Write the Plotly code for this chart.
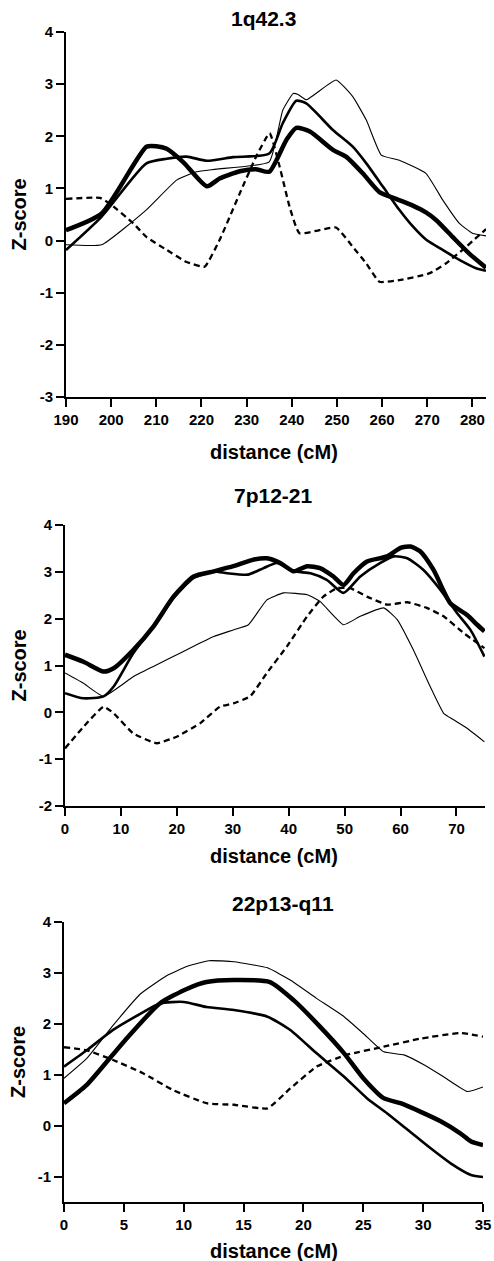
import plotly.graph_objects as go

W, H = 494, 1261
FONT = "Liberation Sans, Arial, sans-serif"

# ---------------- Panel 1: 1q42.3 ----------------
p1_thick_x = [190, 197.9, 207.8, 210, 212.3, 216, 221.2, 224, 228.5, 232, 235, 238.8, 241, 244, 249.1, 252, 255.7, 259.4, 263.1, 266.8, 269.7, 272, 275.6, 279.3, 283]
p1_thick_y = [0.20, 0.52, 1.80, 1.81, 1.76, 1.50, 1.04, 1.19, 1.33, 1.37, 1.32, 1.93, 2.16, 2.09, 1.74, 1.61, 1.29, 0.93, 0.80, 0.67, 0.54, 0.39, 0.07, -0.25, -0.52]

p1_med_x = [190, 197.9, 207.8, 212.3, 216.7, 221.2, 227, 235, 238, 241, 243.2, 249.1, 253.5, 256.5, 260.2, 263.8, 266.8, 269.7, 273.4, 277.1, 280.8, 283]
p1_med_y = [-0.18, 0.46, 1.48, 1.57, 1.61, 1.53, 1.60, 1.67, 2.25, 2.68, 2.63, 2.12, 1.80, 1.48, 1.03, 0.59, 0.27, 0.02, -0.18, -0.37, -0.53, -0.58]

p1_thin_x = [190, 197.9, 207.8, 214.5, 218.9, 223.3, 235, 238, 240.3, 241.4, 243.2, 249.8, 253.5, 256.5, 259.8, 263.8, 269.7, 273.4, 277.1, 280, 283]
p1_thin_y = [-0.08, -0.08, 0.59, 1.16, 1.32, 1.37, 1.51, 2.50, 2.82, 2.80, 2.70, 3.08, 2.76, 2.31, 1.64, 1.54, 1.29, 0.78, 0.33, 0.14, 0.09]

p1_dash_x = [190, 197.5, 199.7, 204.9, 207.8, 212.3, 216.7, 220.7, 224, 228.5, 232.1, 235.1, 237.3, 239.5, 241.7, 249.8, 253.5, 256.5, 259.4, 263.8, 270.4, 274.1, 278.6, 283]
p1_dash_y = [0.80, 0.82, 0.71, 0.33, 0.07, -0.18, -0.41, -0.50, 0.01, 0.91, 1.61, 2.06, 1.42, 0.65, 0.14, 0.25, -0.12, -0.44, -0.79, -0.76, -0.63, -0.44, -0.12, 0.22]

# ---------------- Panel 2: 7p12-21 ----------------
p2_thick_x = [0, 3.3, 6.9, 8.7, 12.2, 15.8, 19.4, 23, 26.6, 30.1, 33.7, 36.1, 38.5, 40.9, 43.3, 45.6, 48, 49.8, 51.6, 54, 57.6, 60, 61.8, 63.5, 65.9, 68.9, 71.9, 73.7, 75]
p2_thick_y = [1.23, 1.08, 0.87, 0.94, 1.33, 1.83, 2.47, 2.90, 3.01, 3.12, 3.26, 3.29, 3.19, 3.01, 3.12, 3.08, 2.90, 2.72, 2.97, 3.22, 3.33, 3.51, 3.54, 3.44, 3.04, 2.33, 2.08, 1.87, 1.73]

p2_med_x = [0, 3.3, 6.9, 8.7, 12.2, 15.8, 19.4, 23, 26.6, 29, 32.7, 35.5, 37.9, 40.9, 43.9, 46.8, 49.8, 52.8, 56.4, 58.8, 61.2, 64.1, 67.1, 70.1, 72.5, 75]
p2_med_y = [0.41, 0.30, 0.34, 0.55, 1.26, 1.83, 2.44, 2.87, 3.01, 2.97, 2.94, 3.08, 3.19, 3.01, 2.97, 2.83, 2.55, 2.90, 3.19, 3.33, 3.29, 3.04, 2.62, 2.12, 1.76, 1.19]

p2_thin_x = [0, 3.3, 6.9, 12.2, 15.8, 18.8, 23, 26.6, 30.1, 32.8, 36.1, 39.1, 43.3, 45.6, 49.8, 52.8, 57, 59.4, 62.3, 65.3, 67.7, 69.5, 71.9, 75]
p2_thin_y = [0.84, 0.62, 0.34, 0.76, 0.98, 1.16, 1.41, 1.62, 1.76, 1.87, 2.40, 2.55, 2.51, 2.37, 1.87, 2.05, 2.23, 1.98, 1.33, 0.55, -0.02, -0.16, -0.34, -0.63]

p2_dash_x = [0, 3.3, 6.9, 8.7, 12.2, 16.4, 20, 24.2, 27.7, 30.1, 33.1, 36.1, 39.7, 43.3, 46.2, 48.6, 51, 54, 57.6, 61.2, 64.7, 67.7, 71.3, 75]
p2_dash_y = [-0.77, -0.31, 0.12, -0.02, -0.45, -0.66, -0.52, -0.23, 0.12, 0.19, 0.34, 0.84, 1.41, 2.05, 2.47, 2.65, 2.65, 2.47, 2.30, 2.35, 2.23, 2.05, 1.69, 1.37]

# ---------------- Panel 3: 22p13-q11 ----------------
p3_thick_x = [0, 1.9, 5, 8, 10.3, 11.9, 14.2, 17.2, 19.2, 21.4, 23.4, 25, 26.7, 28.1, 29.8, 31.5, 33.1, 34, 35]
p3_thick_y = [0.44, 0.80, 1.65, 2.40, 2.69, 2.82, 2.86, 2.82, 2.46, 1.94, 1.42, 0.93, 0.54, 0.44, 0.27, 0.08, -0.15, -0.31, -0.38]

p3_med_x = [0, 1.9, 4.1, 6.4, 8, 10, 11.9, 14.2, 17, 18.9, 21.1, 23.4, 25.3, 27, 28.7, 30.6, 32.3, 34, 35]
p3_med_y = [1.16, 1.48, 1.88, 2.20, 2.40, 2.43, 2.33, 2.27, 2.14, 1.88, 1.42, 0.96, 0.54, 0.24, -0.08, -0.44, -0.74, -0.97, -1.01]

p3_thin_x = [0, 1.9, 4.1, 6.4, 8.6, 10.3, 12.1, 14.2, 17, 18.9, 21.1, 23.4, 25, 26.7, 28.4, 30.1, 31.7, 33.7, 35]
p3_thin_y = [0.93, 1.32, 1.97, 2.59, 2.95, 3.13, 3.24, 3.22, 3.10, 2.86, 2.50, 2.14, 1.81, 1.45, 1.39, 1.19, 0.96, 0.67, 0.76]

p3_dash_x = [0, 1.9, 4.1, 6.6, 9.1, 11.9, 14.2, 17, 18.9, 21.1, 23.6, 26.7, 29.8, 33.1, 35]
p3_dash_y = [1.54, 1.48, 1.29, 1.03, 0.70, 0.44, 0.41, 0.34, 0.73, 1.16, 1.39, 1.55, 1.71, 1.82, 1.75]

titles = ["1q42.3", "7p12-21", "22p13-q11"]
x_ranges = [[190, 283], [0, 75.1], [0, 35]]
x_ticks = [list(range(190, 290, 10)), list(range(0, 80, 10)), list(range(0, 40, 5))]
y_ranges = [[-3, 4], [-2, 4], [-1.5, 4]]
y_ticks = [list(range(-3, 5)), list(range(-2, 5)), list(range(-1, 5))]

# pixel geometry of each panel: (left, right, top, bottom)
geom = [(66, 486, 32, 397), (65, 485, 525, 806), (64, 483, 922, 1202)]
title_pos = [(263, 19), (273, 496), (283, 903)]
xlabel_y = [452, 856, 1251]

def px(x):
    return x / W

def py(y):
    return 1 - y / H

def lab(v):
    return "<b>%s</b>" % ("-%d" % -v if v < 0 else "%d" % v)

series = [
    [(p1_thin_x, p1_thin_y), (p1_med_x, p1_med_y), (p1_thick_x, p1_thick_y), (p1_dash_x, p1_dash_y)],
    [(p2_thin_x, p2_thin_y), (p2_med_x, p2_med_y), (p2_thick_x, p2_thick_y), (p2_dash_x, p2_dash_y)],
    [(p3_thin_x, p3_thin_y), (p3_med_x, p3_med_y), (p3_thick_x, p3_thick_y), (p3_dash_x, p3_dash_y)],
]
styles = [
    dict(width=1.1, dash="solid", smooth=0.4),
    dict(width=2.6, dash="solid", smooth=0.6),
    dict(width=4.5, dash="solid", smooth=0.6),
    dict(width=2.3, dash="6px,4px", smooth=0.4),
]

fig = go.Figure()
layout = dict(
    width=W, height=H, autosize=False,
    margin=dict(l=0, r=0, t=0, b=0, pad=0, autoexpand=False),
    paper_bgcolor="white", plot_bgcolor="white",
    showlegend=False,
    font=dict(family=FONT, color="black"),
    annotations=[],
)

for i in range(3):
    sfx = "" if i == 0 else str(i + 1)
    l, r, t, b = geom[i]
    for (xs, ys), st in zip(series[i], styles):
        fig.add_trace(go.Scatter(
            x=xs, y=ys, mode="lines",
            line=dict(color="black", width=st["width"], dash=st["dash"],
                      shape="spline", smoothing=st["smooth"]),
            xaxis="x" + sfx, yaxis="y" + sfx, hoverinfo="skip",
        ))
    axis_common = dict(
        showline=True, linecolor="black", linewidth=2,
        ticks="outside", ticklen=8, tickwidth=2, tickcolor="black",
        showgrid=False, zeroline=False, automargin=False,
        tickfont=dict(family=FONT, size=15, color="black"),
    )
    layout["xaxis" + sfx] = dict(
        axis_common, domain=[px(l), px(r)], range=x_ranges[i],
        tickvals=x_ticks[i], ticktext=[lab(v) for v in x_ticks[i]], anchor="y" + sfx,
    )
    layout["yaxis" + sfx] = dict(
        axis_common, domain=[py(b), py(t)], range=y_ranges[i],
        tickvals=y_ticks[i], ticktext=[lab(v) for v in y_ticks[i]], anchor="x" + sfx,
    )
    tx, ty = title_pos[i]
    layout["annotations"].append(dict(
        text="<b>%s</b>" % titles[i], x=px(tx), y=py(ty), xref="paper", yref="paper",
        showarrow=False, xanchor="center", yanchor="middle",
        font=dict(family=FONT, size=21, color="black"),
    ))
    layout["annotations"].append(dict(
        text="<b>distance (cM)</b>", x=px(274), y=py(xlabel_y[i]), xref="paper", yref="paper",
        showarrow=False, xanchor="center", yanchor="middle",
        font=dict(family=FONT, size=20, color="black"),
    ))
    layout["annotations"].append(dict(
        text="<b>Z-score</b>", x=px(18), y=py((t + b) / 2), xref="paper", yref="paper",
        showarrow=False, xanchor="center", yanchor="middle", textangle=-90,
        font=dict(family=FONT, size=20, color="black"),
    ))

fig.update_layout(**layout)
fig.write_html(
    "out.html",
    config={"displayModeBar": False, "staticPlot": True},
    post_script="document.body.style.margin='0';document.body.style.padding='0';"
                "document.documentElement.style.margin='0';document.body.style.overflow='hidden';",
)
